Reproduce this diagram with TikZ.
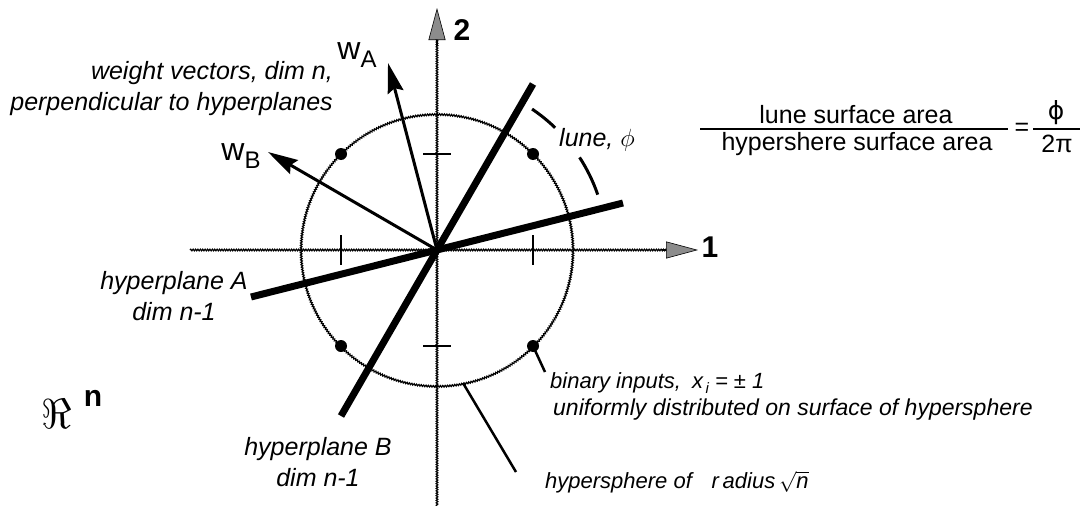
\documentclass[tikz,border=0pt]{standalone}
\usepackage{fontspec}
\setmainfont{Liberation Sans}
\newfontfamily\dejavu{DejaVu Sans}
\usetikzlibrary{arrows.meta,decorations.pathmorphing}
\begin{document}
\begin{tikzpicture}[x=1pt,y=-1pt,
  wavy/.style={line width=1.2pt, black, decorate, decoration={snake, amplitude=0.8pt, segment length=2.4pt}},
  axtip/.style={line width=1.2pt, -{Triangle[length=32pt,width=17pt,fill=black!45,line width=0.6pt]}},
  tick/.style={line width=2pt},
  plane/.style={line width=7pt},
  vec/.style={line width=3pt, -{Stealth[length=30pt,width=16pt,inset=4pt]}},
  lunearc/.style={line width=3pt},
  lead/.style={line width=2.5pt},
  lab/.style={inner sep=0pt, font=\fontsize{25}{31}\selectfont\itshape},
  blab/.style={inner sep=0pt, font=\fontsize{23}{27}\selectfont\itshape},
  slab/.style={inner sep=0pt, font=\fontsize{22}{26}\selectfont\itshape},
  fl/.style={inner sep=0pt, font=\fontsize{25}{25}\selectfont},
  axl/.style={inner sep=0pt, font=\fontsize{30}{30}\selectfont\bfseries},
  wl/.style={inner sep=0pt, font=\fontsize{32}{32}\selectfont},
  dot/.style={fill=black}]
\useasboundingbox (0,0) rectangle (1088,506);
% coordinates
\coordinate (O) at (437,250);
\coordinate (xL) at (190,250);
\coordinate (xM) at (672,250);
\coordinate (xA) at (662,250);
\coordinate (xR) at (698,250);
\coordinate (yB) at (437,506);
\coordinate (yM) at (437,36);
\coordinate (yA) at (437,46);
\coordinate (yT) at (437,8);
% axes
\draw[wavy] (xL) -- (xM);
\draw[axtip] (xA) -- (xR);
\draw[wavy] (yB) -- (yM);
\draw[axtip] (yA) -- (yT);
% hypersphere
\draw[wavy] (O) circle[radius=136];
% ticks
\draw[tick] (341,235) -- (341,265);
\draw[tick] (533,235) -- (533,265);
\draw[tick] (423,154) -- (451,154);
\draw[tick] (423,346) -- (451,346);
% binary inputs
\coordinate (d1) at (341,154);
\coordinate (d2) at (533,154);
\coordinate (d3) at (341,346);
\coordinate (d4) at (533,346);
\foreach \d in {d1,d2,d3,d4} \fill[dot] (\d) circle[radius=6];
% hyperplanes
\coordinate (A1) at (251,297);
\coordinate (A2) at (623,203);
\coordinate (B1) at (533,84);
\coordinate (B2) at (341,416);
\draw[plane] (A1) -- (A2);
\draw[plane] (B1) -- (B2);
% weight vectors
\coordinate (wAtip) at (388,63);
\coordinate (wBtip) at (268,152);
\draw[vec] (O) -- (wAtip);
\draw[vec] (O) -- (wBtip);
% lune arcs
\draw[lunearc] (O) ++(-56:170) arc[start angle=-56,end angle=-46,radius=170];
\draw[lunearc] (O) ++(-33:170) arc[start angle=-33,end angle=-19,radius=170];
% labels
\node[axl] (one) at (710,247) {1};
\node[axl] (two) at (462,30) {2};
\node[wl] (wAl) at (357,55) {w\raisebox{-8pt}{\fontsize{24}{24}\selectfont A}};
\node[wl] (wBl) at (241,156) {w\raisebox{-8pt}{\fontsize{24}{24}\selectfont B}};
\node[lab, anchor=east, align=right] (wtxt) at (333,89) {weight vectors, dim n,\\perpendicular to hyperplanes};
\node[lab] (lune) at (597,140) {lune, $\phi$};
\node[lab, align=center] (hA) at (174,296) {hyperplane A\\dim n-1};
\node[lab, align=center] (hB) at (318,462) {hyperplane B\\dim n-1};
% formula
\node[fl] (num) at (856,115) {lune surface area};
\node[fl] (den) at (857,144) {hypershere surface area};
\coordinate (b1L) at (700,129);
\coordinate (b1R) at (1008,129);
\draw[line width=1.3pt] (b1L) -- (b1R);
\node[fl] (eq) at (1022,129) {=};
\node[fl] (phi) at (1056,113) {\dejavu ϕ};
\node[fl] (twopi) at (1057,144) {2π};
\coordinate (b2L) at (1033,129);
\coordinate (b2R) at (1080,129);
\draw[line width=1.3pt] (b2L) -- (b2R);
% R^n
\node[inner sep=0pt] (Re) at (57,414) {\scalebox{4.2}{$\Re$}};
\node[inner sep=0pt, font=\fontsize{30}{30}\selectfont\bfseries] (nsup) at (93,398) {n};
% bottom labels and leaders
\node[slab, anchor=west] (bin) at (550,383) {binary inputs,\hspace{0.5em}x\raisebox{-5pt}{\fontsize{15}{15}\selectfont\,i} = ± 1};
\node[blab, anchor=west] (unif) at (553,410) {uniformly distributed on surface of hypersphere};
\node[slab, anchor=west] (hs) at (545,482) {hypersphere of\hspace{0.9em}r\,adius\,$\sqrt{\textit{n}}$};
\coordinate (binEnd) at (545,372);
\coordinate (cpt) at (463,383);
\coordinate (hsEnd) at (516,472);
\draw[lead] (d4) -- (binEnd);
\draw[lead] (cpt) -- (hsEnd);
\end{tikzpicture}
\end{document}
